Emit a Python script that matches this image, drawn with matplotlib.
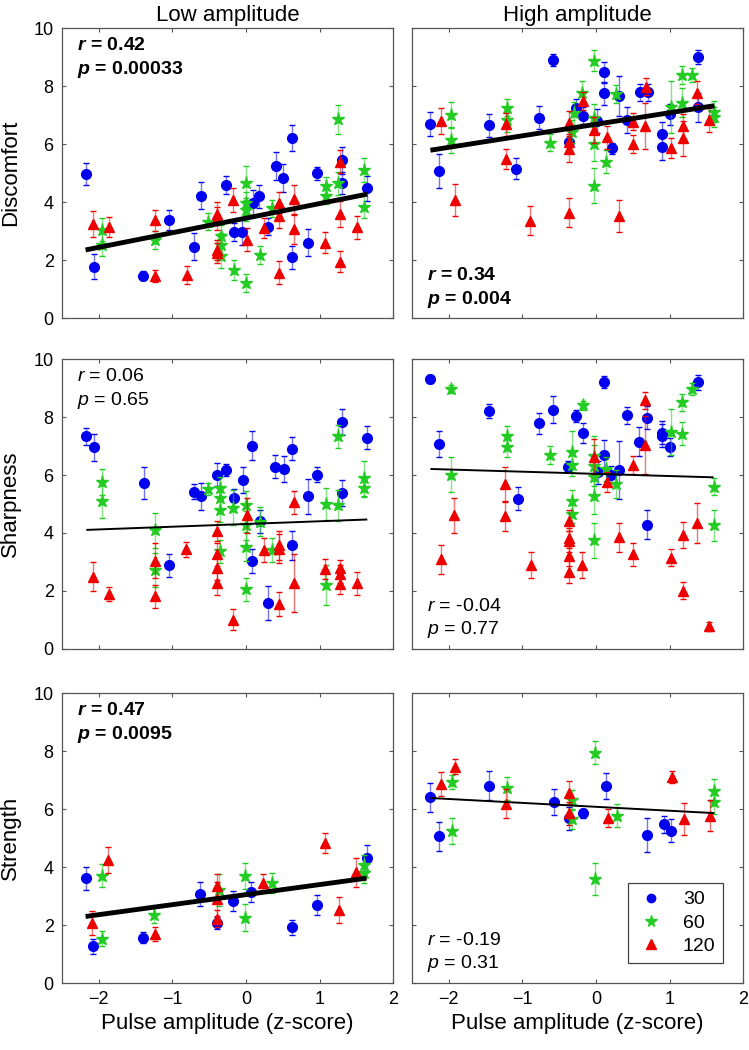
import matplotlib.pyplot as plt
from matplotlib.lines import Line2D
import numpy as np

plt.rcParams['font.family'] = ['Liberation Sans', 'DejaVu Sans']
plt.rcParams['mathtext.fontset'] = 'custom'
plt.rcParams['mathtext.rm'] = 'Liberation Sans'
plt.rcParams['mathtext.it'] = 'Liberation Sans:italic'
plt.rcParams['mathtext.bf'] = 'Liberation Sans:bold'
plt.rcParams['mathtext.bfit'] = 'Liberation Sans:bold:italic'

# (z-score, rating, error), per pulse frequency
discomfort_low_30 = [(-2.18, 4.98, 0.37), (-2.07, 1.78, 0.42), (-1.40, 1.47, 0.17), (-1.05, 3.39, 0.35),
                     (-0.70, 2.47, 0.46), (-0.61, 4.23, 0.46), (-0.27, 4.60, 0.32), (-0.16, 2.97, 0.32),
                     (-0.05, 2.97, 0.46), (0.10, 3.99, 0.43), (0.18, 4.20, 0.40), (0.30, 3.16, 0.29),
                     (0.41, 5.25, 0.47), (0.51, 4.83, 0.49), (0.63, 6.21, 0.44), (0.63, 2.10, 0.40),
                     (0.85, 2.61, 0.47), (0.97, 5.00, 0.23), (1.30, 5.44, 0.46), (1.30, 4.66, 0.37),
                     (1.65, 4.48, 0.43)]
discomfort_low_60 = [(-1.95, 3.05, 0.40), (-1.95, 2.53, 0.40), (-1.23, 2.70, 0.30), (-0.52, 3.33, 0.30),
                     (-0.34, 2.82, 0.40), (-0.34, 2.53, 0.40), (-0.34, 2.13, 0.40), (-0.16, 1.67, 0.35),
                     (0.00, 4.66, 0.60), (0.00, 3.97, 0.40), (0.00, 3.74, 0.40), (0.00, 1.21, 0.30),
                     (0.19, 2.18, 0.30), (0.36, 3.79, 0.30), (1.09, 4.57, 0.30), (1.09, 4.23, 0.30),
                     (1.25, 6.86, 0.50), (1.25, 4.66, 0.40), (1.60, 5.11, 0.40), (1.60, 3.85, 0.40)]
discomfort_low_120 = [(-2.08, 3.25, 0.45), (-1.86, 3.14, 0.35), (-1.23, 3.37, 0.35), (-1.23, 1.46, 0.20),
                      (-0.80, 1.49, 0.30), (-0.39, 3.60, 0.40), (-0.39, 3.45, 0.40), (-0.39, 2.36, 0.35),
                      (-0.39, 2.24, 0.35), (-0.17, 4.08, 0.40), (0.02, 2.70, 0.40), (0.25, 3.10, 0.35),
                      (0.45, 3.99, 0.35), (0.45, 3.51, 0.40), (0.45, 1.57, 0.40), (0.66, 4.11, 0.50),
                      (0.66, 3.07, 0.50), (1.08, 2.61, 0.35), (1.28, 5.40, 0.40), (1.28, 3.60, 0.45),
                      (1.28, 1.95, 0.35), (1.51, 3.14, 0.40)]

discomfort_high_30 = [(-2.25, 6.70, 0.40), (-2.14, 5.08, 0.60), (-1.46, 6.66, 0.40), (-1.08, 5.16, 0.35),
                      (-0.77, 6.92, 0.40), (-0.58, 8.91, 0.20), (-0.37, 6.09, 0.40), (-0.27, 7.26, 0.30),
                      (-0.18, 6.99, 0.30), (0.01, 6.80, 0.40), (0.11, 8.48, 0.35), (0.11, 7.76, 0.40),
                      (0.22, 5.86, 0.20), (0.32, 7.67, 0.70), (0.42, 6.84, 0.45), (0.60, 7.79, 0.30),
                      (0.71, 7.79, 0.30), (0.90, 6.36, 0.40), (0.90, 5.89, 0.45), (1.00, 7.03, 0.35),
                      (1.39, 9.02, 0.25), (1.39, 7.28, 0.50)]
discomfort_high_60 = [(-1.97, 7.01, 0.45), (-1.97, 6.15, 0.45), (-1.21, 7.26, 0.30), (-1.21, 6.84, 0.40),
                      (-0.62, 6.06, 0.30), (-0.33, 6.44, 0.40), (-0.30, 7.07, 0.40), (-0.19, 7.78, 0.40),
                      (-0.02, 8.89, 0.35), (-0.02, 6.90, 0.50), (-0.02, 6.01, 0.60), (-0.02, 4.57, 0.60),
                      (0.14, 5.40, 0.40), (0.27, 7.74, 0.30), (1.02, 7.30, 0.90), (1.17, 7.44, 0.50),
                      (1.17, 8.39, 0.30), (1.31, 8.39, 0.25), (1.61, 7.13, 0.35), (1.61, 6.95, 0.35)]
discomfort_high_120 = [(-2.10, 6.80, 0.45), (-1.92, 4.08, 0.55), (-1.22, 6.69, 0.40), (-1.22, 5.48, 0.35),
                       (-0.89, 3.36, 0.50), (-0.37, 6.75, 0.40), (-0.37, 6.09, 0.40), (-0.37, 5.83, 0.45),
                       (-0.37, 3.64, 0.50), (-0.18, 7.49, 0.30), (-0.02, 6.49, 0.45), (0.15, 6.24, 0.40),
                       (0.32, 3.53, 0.55), (0.50, 6.78, 0.30), (0.50, 6.01, 0.30), (0.67, 6.63, 0.80),
                       (0.68, 7.99, 0.30), (1.02, 5.86, 0.35), (1.19, 6.63, 0.40), (1.19, 6.21, 0.60),
                       (1.37, 7.78, 0.40), (1.53, 6.84, 0.40)]

sharpness_low_30 = [(-2.17, 7.33, 0.30), (-2.07, 6.95, 0.45), (-1.39, 5.73, 0.55), (-1.05, 2.89, 0.40),
                    (-0.71, 5.43, 0.25), (-0.61, 5.26, 0.45), (-0.39, 6.01, 0.40), (-0.27, 6.18, 0.20),
                    (-0.16, 5.21, 0.30), (-0.04, 5.84, 0.45), (0.08, 7.01, 0.50), (0.08, 3.03, 0.40),
                    (0.19, 4.41, 0.40), (0.30, 1.58, 0.60), (0.40, 6.29, 0.40), (0.52, 6.21, 0.45),
                    (0.63, 6.91, 0.40), (0.63, 3.58, 0.50), (0.85, 5.26, 0.60), (0.97, 6.01, 0.25),
                    (1.31, 7.83, 0.45), (1.31, 5.38, 0.45), (1.65, 7.29, 0.40)]
sharpness_low_60 = [(-1.95, 5.75, 0.45), (-1.95, 5.12, 0.60), (-1.24, 4.09, 0.60), (-1.24, 2.72, 0.60),
                    (-0.52, 5.52, 0.20), (-0.35, 5.54, 0.40), (-0.35, 5.20, 0.40), (-0.35, 4.78, 0.40),
                    (-0.35, 3.37, 0.40), (-0.17, 4.87, 0.60), (0.00, 4.95, 0.50), (0.00, 4.26, 0.50),
                    (0.00, 3.52, 0.50), (0.00, 2.06, 0.40), (0.19, 4.38, 0.50), (0.36, 3.41, 0.40),
                    (1.09, 5.01, 0.55), (1.09, 2.21, 0.70), (1.25, 7.33, 0.40), (1.25, 4.95, 0.55),
                    (1.60, 5.89, 0.60), (1.60, 5.54, 0.30)]
sharpness_low_120 = [(-2.08, 2.49, 0.50), (-1.86, 1.89, 0.25), (-1.24, 3.04, 0.60), (-1.24, 1.81, 0.40),
                     (-0.81, 3.43, 0.25), (-0.40, 4.06, 0.35), (-0.40, 3.26, 0.40), (-0.40, 2.78, 0.40),
                     (-0.40, 2.26, 0.40), (-0.17, 1.01, 0.35), (0.02, 4.61, 0.60), (0.24, 3.41, 0.40),
                     (0.45, 3.58, 0.50), (0.45, 3.46, 0.50), (0.45, 1.55, 0.40), (0.66, 5.06, 0.40),
                     (0.66, 2.26, 1.00), (1.08, 2.75, 0.35), (1.28, 2.78, 0.30), (1.28, 2.58, 0.30),
                     (1.28, 2.23, 0.35), (1.51, 2.26, 0.40)]

sharpness_high_30 = [(-2.25, 9.31, 0.15), (-2.14, 7.06, 0.45), (-1.46, 8.21, 0.25), (-1.06, 5.18, 0.40),
                     (-0.77, 7.78, 0.35), (-0.58, 8.26, 0.45), (-0.38, 6.29, 0.20), (-0.27, 8.03, 0.20),
                     (-0.18, 7.46, 0.35), (0.03, 6.09, 0.40), (0.11, 9.20, 0.20), (0.11, 6.70, 0.50),
                     (0.21, 6.01, 0.30), (0.32, 6.18, 1.00), (0.42, 8.06, 0.30), (0.59, 7.15, 0.50),
                     (0.70, 7.98, 0.40), (0.69, 4.29, 0.50), (0.90, 7.46, 0.40), (0.90, 7.35, 0.40),
                     (1.00, 6.97, 0.30), (1.39, 9.20, 0.25)]
sharpness_high_60 = [(-1.97, 8.97, 0.15), (-1.97, 6.01, 0.60), (-1.21, 7.35, 0.35), (-1.21, 6.98, 0.35),
                     (-0.62, 6.69, 0.30), (-0.33, 6.81, 0.70), (-0.33, 6.35, 0.40), (-0.33, 5.09, 0.40),
                     (-0.33, 4.66, 0.30), (-0.17, 8.40, 0.15), (-0.02, 6.66, 0.70), (-0.02, 6.32, 0.70),
                     (-0.02, 5.92, 0.60), (-0.02, 5.27, 0.60), (-0.02, 3.75, 0.60), (0.14, 6.21, 0.40),
                     (0.27, 5.69, 0.50), (1.02, 7.49, 0.80), (1.17, 8.51, 0.30), (1.17, 7.43, 0.40),
                     (1.31, 8.97, 0.20), (1.60, 5.60, 0.30), (1.60, 4.26, 0.55)]
sharpness_high_120 = [(-2.10, 3.09, 0.50), (-1.93, 4.61, 0.60), (-1.23, 5.69, 0.60), (-1.23, 4.57, 0.50),
                      (-0.88, 2.89, 0.45), (-0.37, 4.43, 0.35), (-0.37, 3.83, 0.35), (-0.37, 3.71, 0.35),
                      (-0.37, 3.20, 0.35), (-0.37, 2.66, 0.40), (-0.19, 2.89, 0.45), (-0.02, 6.63, 0.60),
                      (0.15, 5.77, 0.35), (0.32, 3.86, 0.50), (0.50, 6.34, 0.30), (0.50, 3.27, 0.40),
                      (0.67, 8.58, 0.30), (0.67, 7.03, 1.00), (1.02, 3.15, 0.30), (1.19, 3.92, 0.45),
                      (1.19, 2.01, 0.30), (1.37, 4.35, 0.70), (1.53, 0.78, 0.15)]

strength_low_30 = [(-2.18, 3.62, 0.40), (-2.08, 1.26, 0.25), (-1.40, 1.57, 0.20), (-0.62, 3.07, 0.40),
                   (-0.40, 2.07, 0.20), (-0.17, 2.82, 0.35), (0.07, 3.14, 0.35), (0.62, 1.92, 0.25),
                   (0.96, 2.68, 0.35), (1.64, 4.31, 0.45)]
strength_low_60 = [(-1.96, 3.70, 0.40), (-1.95, 1.53, 0.25), (-1.25, 2.36, 0.30), (-0.36, 3.22, 0.55),
                   (-0.01, 3.70, 0.45), (-0.01, 2.26, 0.45), (0.35, 3.45, 0.35), (1.60, 4.08, 0.35),
                   (1.60, 3.80, 0.35)]
strength_low_120 = [(-2.09, 2.07, 0.40), (-1.87, 4.25, 0.45), (-1.24, 1.69, 0.25), (-0.40, 3.36, 0.40),
                    (-0.40, 2.90, 0.60), (-0.40, 2.22, 0.30), (0.23, 3.45, 0.30), (1.08, 4.83, 0.35),
                    (1.27, 2.53, 0.45), (1.50, 3.82, 0.50)]

strength_high_30 = [(-2.25, 6.41, 0.50), (-2.14, 5.06, 0.50), (-1.45, 6.80, 0.50), (-0.57, 6.26, 0.45),
                    (-0.36, 5.69, 0.40), (-0.17, 5.86, 0.15), (0.13, 6.80, 0.45), (0.70, 5.11, 0.60),
                    (0.92, 5.48, 0.30), (1.02, 5.26, 0.40)]
strength_high_60 = [(-1.96, 6.93, 0.25), (-1.96, 5.26, 0.45), (-1.21, 6.72, 0.40), (-0.32, 6.32, 0.35),
                    (-0.32, 5.66, 0.35), (-0.01, 7.95, 0.40), (-0.01, 3.59, 0.55), (0.28, 5.78, 0.40),
                    (1.61, 6.63, 0.40), (1.61, 6.23, 0.40)]
strength_high_120 = [(-2.10, 6.87, 0.40), (-1.92, 7.47, 0.25), (-1.22, 6.18, 0.50), (-0.36, 6.57, 0.40),
                     (-0.36, 5.86, 0.40), (0.16, 5.69, 0.30), (1.03, 7.10, 0.20), (1.20, 5.66, 0.55),
                     (1.55, 5.78, 0.55)]

# regression line (slope, intercept) and stats per panel
fits = [[(0.503, 3.45), (0.398, 6.69)],
        [(0.094, 4.31), (-0.075, 6.04)],
        [(0.346, 3.05), (-0.135, 6.08)]]
stats_r = [['0.42', '0.34'], ['0.06', '-0.04'], ['0.47', '-0.19']]
stats_p = [['0.00033', '0.004'], ['0.65', '0.77'], ['0.0095', '0.31']]
significant = [[True, True], [False, False], [True, False]]

panels = [[(discomfort_low_30, discomfort_low_60, discomfort_low_120),
           (discomfort_high_30, discomfort_high_60, discomfort_high_120)],
          [(sharpness_low_30, sharpness_low_60, sharpness_low_120),
           (sharpness_high_30, sharpness_high_60, sharpness_high_120)],
          [(strength_low_30, strength_low_60, strength_low_120),
           (strength_high_30, strength_high_60, strength_high_120)]]

row_labels = ['Discomfort', 'Sharpness', 'Strength']
col_titles = ['Low amplitude', 'High amplitude']
freq_labels = ['30', '60', '120']
colors = ['#0000ee', '#22cc22', '#ee0000']
markers = ['o', '*', '^']
msizes = [7, 9.5, 7.5]
# stat text position: top-left or bottom-left
text_top = [[True, False], [True, False], [True, False]]

fig = plt.figure(figsize=(7.49, 10.5), dpi=100)
lefts = [0.0828, 0.5501]
bottoms = [0.697, 0.382, 0.0638]
W, H = 0.442, 0.276

for i in range(3):
    for j in range(2):
        ax = fig.add_axes([lefts[j], bottoms[i], W, H])
        allx = []
        for k in range(3):
            pts = np.array(panels[i][j][k])
            allx += list(pts[:, 0])
            ax.errorbar(pts[:, 0], pts[:, 1], yerr=pts[:, 2], fmt=markers[k],
                        color=colors[k], ms=msizes[k], mec=colors[k],
                        ecolor=colors[k], elinewidth=1.0, capsize=2.2,
                        capthick=1.0, zorder=2 + k)
        # lighter error bars
        for c in ax.collections:
            c.set_alpha(0.55)
        xs = np.array([min(allx), max(allx)])
        m, b = fits[i][j]
        lw = 3.5 if significant[i][j] else 1.4
        ax.plot(xs, m * xs + b, color='black', lw=lw, zorder=10, solid_capstyle='butt')

        wt = 'bold' if significant[i][j] else 'normal'
        rsym = r'$\mathbfit{r}$' if significant[i][j] else r'$\mathit{r}$'
        psym = r'$\mathbfit{p}$' if significant[i][j] else r'$\mathit{p}$'
        ty = (0.94, 0.858) if text_top[i][j] else (0.148, 0.066)
        ax.text(0.045, ty[0], rsym + ' = ' + stats_r[i][j], transform=ax.transAxes,
                fontsize=14, fontweight=wt, va='center', ha='left', zorder=12)
        ax.text(0.045, ty[1], psym + ' = ' + stats_p[i][j], transform=ax.transAxes,
                fontsize=14, fontweight=wt, va='center', ha='left', zorder=12)

        ax.set_xlim(-2.5, 2)
        ax.set_ylim(0, 10)
        ax.set_xticks([-2, -1, 0, 1, 2])
        ax.set_yticks([0, 2, 4, 6, 8, 10])
        ax.tick_params(direction='in', top=True, right=True, length=3, width=0.8,
                       color='#555555', labelsize=13, pad=6)
        for s in ax.spines.values():
            s.set_color('#555555')
            s.set_linewidth(0.9)
        if i < 2:
            ax.set_xticklabels([])
        else:
            ax.set_xlabel('Pulse amplitude (z-score)', fontsize=16, labelpad=3)
        if j == 1:
            ax.set_yticklabels([])
        else:
            ax.set_ylabel(row_labels[i], fontsize=16, labelpad=9)
        if i == 0:
            ax.set_title(col_titles[j], fontsize=16, pad=5)

        if i == 2 and j == 1:
            handles = [Line2D([], [], ls='none', marker=markers[k], color=colors[k],
                              ms=msizes[k] - 1) for k in range(3)]
            leg = ax.legend(handles, freq_labels, loc='lower right',
                            bbox_to_anchor=(0.94, 0.069), borderaxespad=0,
                            fontsize=14, fancybox=False, edgecolor='#444444',
                            framealpha=1, handletextpad=0.9, labelspacing=0.3,
                            borderpad=0.4, handlelength=1.5)
            leg.get_frame().set_linewidth(0.9)
            leg.set_zorder(20)

fig.savefig('out.png', dpi=100)
